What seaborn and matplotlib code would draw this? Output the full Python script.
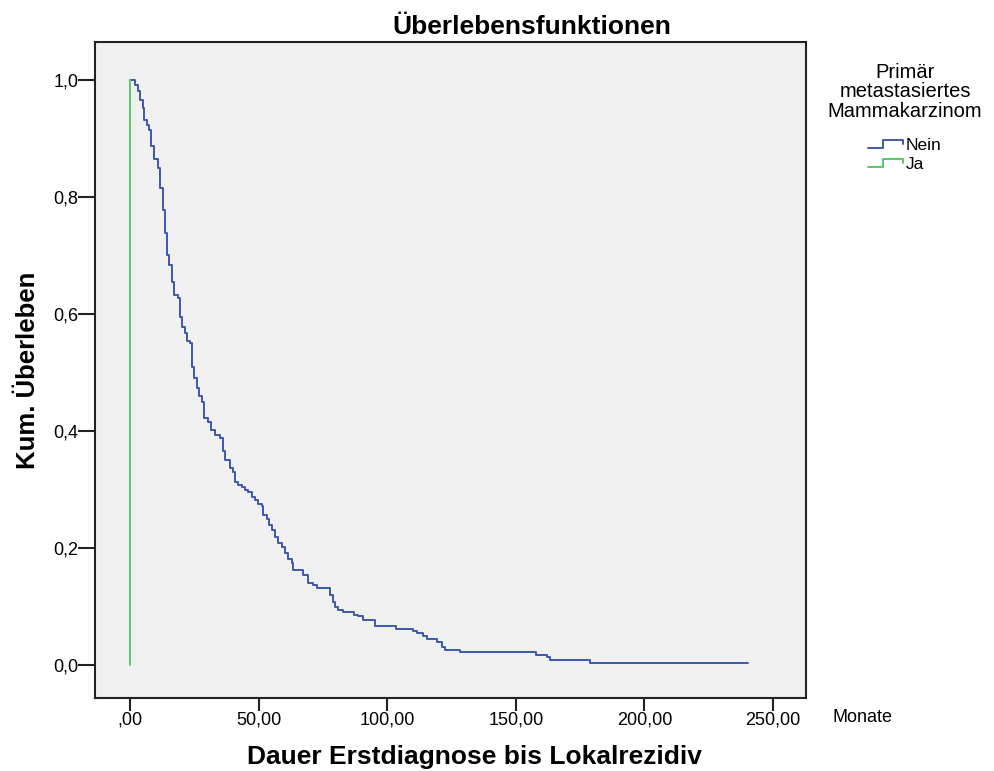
import pandas as pd
import matplotlib
matplotlib.use("Agg")
import matplotlib.pyplot as plt
from matplotlib.lines import Line2D
from matplotlib.legend_handler import HandlerBase
import seaborn as sns

# Kaplan-Meier steps (time in months, cumulative survival)
nein_time = [0, 1.9, 3.2, 3.9, 4.9, 5.6, 6.5, 7.5, 8.2, 9.5, 10.8, 11.7, 12.7, 13.6, 14.4,
             15.3, 16.2, 17.1, 18.8, 19.4, 20.3, 21.4, 22.3, 23.3, 24.0, 25.0, 25.9, 26.9,
             27.9, 28.9, 30.4, 31.5, 33.0, 35.0, 36.0, 36.9, 38.9, 40.2, 40.8, 42.1, 43.4,
             44.7, 46.0, 47.3, 48.6, 49.9, 51.2, 51.8, 53.1, 54.2, 55.1, 56.4, 57.7, 59.0,
             60.3, 61.5, 62.9, 63.5, 67.4, 69.3, 71.3, 72.6, 77.8, 78.8, 79.7, 81.0, 83.0,
             86.9, 88.8, 90.7, 95.3, 103.4, 110.2, 111.5, 114.0, 115.4, 119.2, 121.2, 122.5,
             128.3, 157.9, 162.0, 163.3, 178.8, 240.3]
nein_surv = [1.0, 0.991, 0.982, 0.966, 0.952, 0.932, 0.923, 0.915, 0.887, 0.865, 0.849, 0.815,
             0.778, 0.738, 0.701, 0.683, 0.655, 0.632, 0.627, 0.595, 0.578, 0.567, 0.554, 0.550,
             0.510, 0.490, 0.473, 0.459, 0.450, 0.422, 0.416, 0.402, 0.393, 0.388, 0.365, 0.350,
             0.336, 0.330, 0.313, 0.308, 0.304, 0.299, 0.295, 0.288, 0.282, 0.276, 0.271, 0.256,
             0.249, 0.239, 0.231, 0.219, 0.208, 0.201, 0.191, 0.182, 0.174, 0.162, 0.154, 0.141,
             0.137, 0.131, 0.120, 0.108, 0.100, 0.094, 0.091, 0.086, 0.083, 0.077, 0.066, 0.062,
             0.058, 0.054, 0.050, 0.044, 0.040, 0.031, 0.026, 0.022, 0.017, 0.013, 0.0085, 0.004,
             0.004]
ja_time = [0, 0]
ja_surv = [1.0, 0.0]

groups = ["Nein", "Ja"]
colors = ["#3e58ac", "#55c966"]

x_ticks = [0, 50, 100, 150, 200, 250]
x_tick_labels = [",00", "50,00", "100,00", "150,00", "200,00", "250,00"]
y_ticks = [0.0, 0.2, 0.4, 0.6, 0.8, 1.0]
y_tick_labels = ["0,0", "0,2", "0,4", "0,6", "0,8", "1,0"]

df = pd.concat([
    pd.DataFrame({"Zeit": nein_time, "Ueberleben": nein_surv, "Gruppe": "Nein"}),
    pd.DataFrame({"Zeit": ja_time, "Ueberleben": ja_surv, "Gruppe": "Ja"}),
], ignore_index=True)

sns.set_style("white")
plt.rcParams["font.family"] = ["Liberation Sans", "DejaVu Sans"]
plt.rcParams["text.color"] = "black"
plt.rcParams["axes.labelcolor"] = "black"

fig = plt.figure(figsize=(9.94, 7.71), dpi=100)
ax = fig.add_axes([95 / 994, 1 - 698 / 771, 711 / 994, 656 / 771])
ax.set_facecolor("#f0f0f0")

sns.lineplot(data=df, x="Zeit", y="Ueberleben", hue="Gruppe", hue_order=groups,
             palette=colors, drawstyle="steps-post", estimator=None, sort=False,
             linewidth=1.4, legend=False, ax=ax)

ax.set_xlim(-13.6, 262.8)
ax.set_ylim(-0.0564, 1.065)
ax.set_xticks(x_ticks)
ax.set_xticklabels(x_tick_labels)
ax.set_yticks(y_ticks)
ax.set_yticklabels(y_tick_labels)
ax.tick_params(axis="x", bottom=True, direction="out", length=9, width=1.5, color="#222222",
               labelsize=13, labelcolor="black", pad=1)
ax.tick_params(axis="y", left=True, direction="out", length=12, width=1.5, color="#222222",
               labelsize=13, labelcolor="black", pad=0)
for s in ax.spines.values():
    s.set_color("#222222")
    s.set_linewidth(1.5)

ax.set_xlabel("Dauer Erstdiagnose bis Lokalrezidiv", fontsize=19, fontweight="bold")
ax.xaxis.set_label_coords(0.534, -0.072)
ax.set_ylabel("Kum. Überleben", fontsize=18.5, fontweight="bold")
ax.yaxis.set_label_coords(-0.077, 0.5)
ax.set_title("Überlebensfunktionen", fontsize=19, fontweight="bold", x=0.615, y=1.012, pad=0)

fig.text(833 / 994, 1 - 718 / 771, "Monate", fontsize=13, ha="left", va="center")


class StepHandler(HandlerBase):
    def create_artists(self, legend, orig_handle, xdescent, ydescent, width, height,
                       fontsize, trans):
        x0, w, h = -xdescent, width, height
        xs = [x0, x0 + 0.42 * w, x0 + 0.42 * w, x0 + w, x0 + w]
        ys = [0.15 * h, 0.15 * h, 0.8 * h, 0.8 * h, 0.5 * h]
        line = Line2D(xs, ys, color=orig_handle.get_color(), linewidth=1.4)
        line.set_transform(trans)
        return [line]


handles = [Line2D([], [], color=c) for c in colors]
leg = fig.legend(handles, groups, title="Primär\nmetastasiertes\nMammakarzinom",
                 loc="upper center", bbox_to_anchor=(905 / 994, 1 - 54 / 771),
                 frameon=False, fontsize=12.5, title_fontsize=14.5, borderpad=0,
                 handler_map={Line2D: StepHandler()}, handlelength=2.0,
                 handletextpad=0.15, labelspacing=0.2)
leg.get_title().set_multialignment("center")
leg.get_title().set_linespacing(1.05)
leg._legend_box.sep = 12

fig.savefig("out.png", dpi=100)
